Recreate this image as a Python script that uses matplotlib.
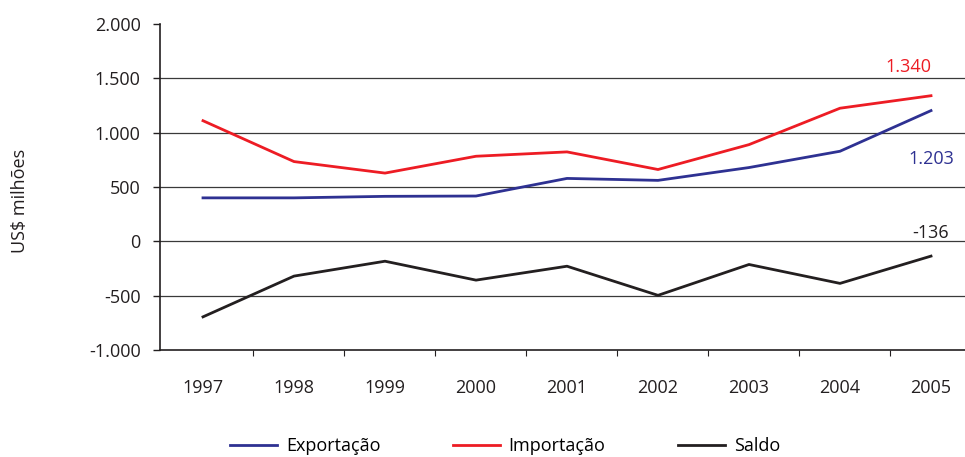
import matplotlib
matplotlib.use("Agg")
import matplotlib.pyplot as plt
from matplotlib.ticker import FuncFormatter, FixedLocator

plt.rcParams['font.family'] = ['Open Sans', 'DejaVu Sans']

years = ['1997', '1998', '1999', '2000', '2001', '2002', '2003', '2004', '2005']
exportacao = [400, 400, 414, 417, 579, 561, 679, 829, 1203]
importacao = [1110, 734, 628, 783, 823, 661, 890, 1225, 1340]
saldo = [-695, -320, -183, -357, -229, -497, -213, -387, -136]

blue = '#2e3192'
red = '#ed1c24'
black = '#231f20'


def thousands(v, pos):
    return format(int(v), ',').replace(',', '.')


fig = plt.figure(figsize=(9.65, 4.57), dpi=100)
ax = fig.add_axes([160 / 965, 1 - 350 / 457, 1 - 160 / 965, (350 - 24) / 457])

x = list(range(len(years)))
ax.plot(x, exportacao, color=blue, lw=2, label='Exportação')
ax.plot(x, importacao, color=red, lw=2, label='Importação')
ax.plot(x, saldo, color=black, lw=2, label='Saldo')

# last-value labels
ax.text(x[-1] - 0.25, importacao[-1] + 260, thousands(importacao[-1], None), color=red,
        fontsize=13, ha='center', va='center')
ax.text(x[-1], exportacao[-1] - 445, thousands(exportacao[-1], None), color=blue,
        fontsize=13, ha='center', va='center')
ax.text(x[-1], saldo[-1] + 215, thousands(saldo[-1], None), color=black,
        fontsize=13, ha='center', va='center')

ax.set_ylim(-1000, 2000)
ax.set_yticks(range(-1000, 2001, 500))
ax.yaxis.set_major_formatter(FuncFormatter(thousands))
for v in range(-500, 2000, 500):
    ax.axhline(v, color='#3a3a3a', lw=0.9, zorder=0)

ax.set_xlim(-(203 - 160) / 91, (965 - 203) / 91)
ax.set_xticks(x)
ax.set_xticklabels(years)
ax.xaxis.set_minor_locator(FixedLocator([i + 0.55 for i in x[:-1]]))

for s in ['top', 'right']:
    ax.spines[s].set_visible(False)
for s in ['left', 'bottom']:
    ax.spines[s].set_color(black)
    ax.spines[s].set_linewidth(1.2)

ax.tick_params(axis='y', length=5, width=1, colors=black, labelsize=13, pad=9)
ax.tick_params(axis='x', which='major', length=0, labelsize=13, pad=21, colors=black)
ax.tick_params(axis='x', which='minor', length=4, width=0.8, colors=black)

fig.text(20 / 965, 1 - 201 / 457, 'US$ milhões', rotation=90, ha='center', va='center',
         fontsize=13, color=black)

fig.legend(loc='center', bbox_to_anchor=(505 / 965, 1 - 446 / 457), ncol=3, frameon=False,
           fontsize=13, handlelength=2.6, columnspacing=4.0, handletextpad=0.5)

fig.savefig('out.png', dpi=100)
